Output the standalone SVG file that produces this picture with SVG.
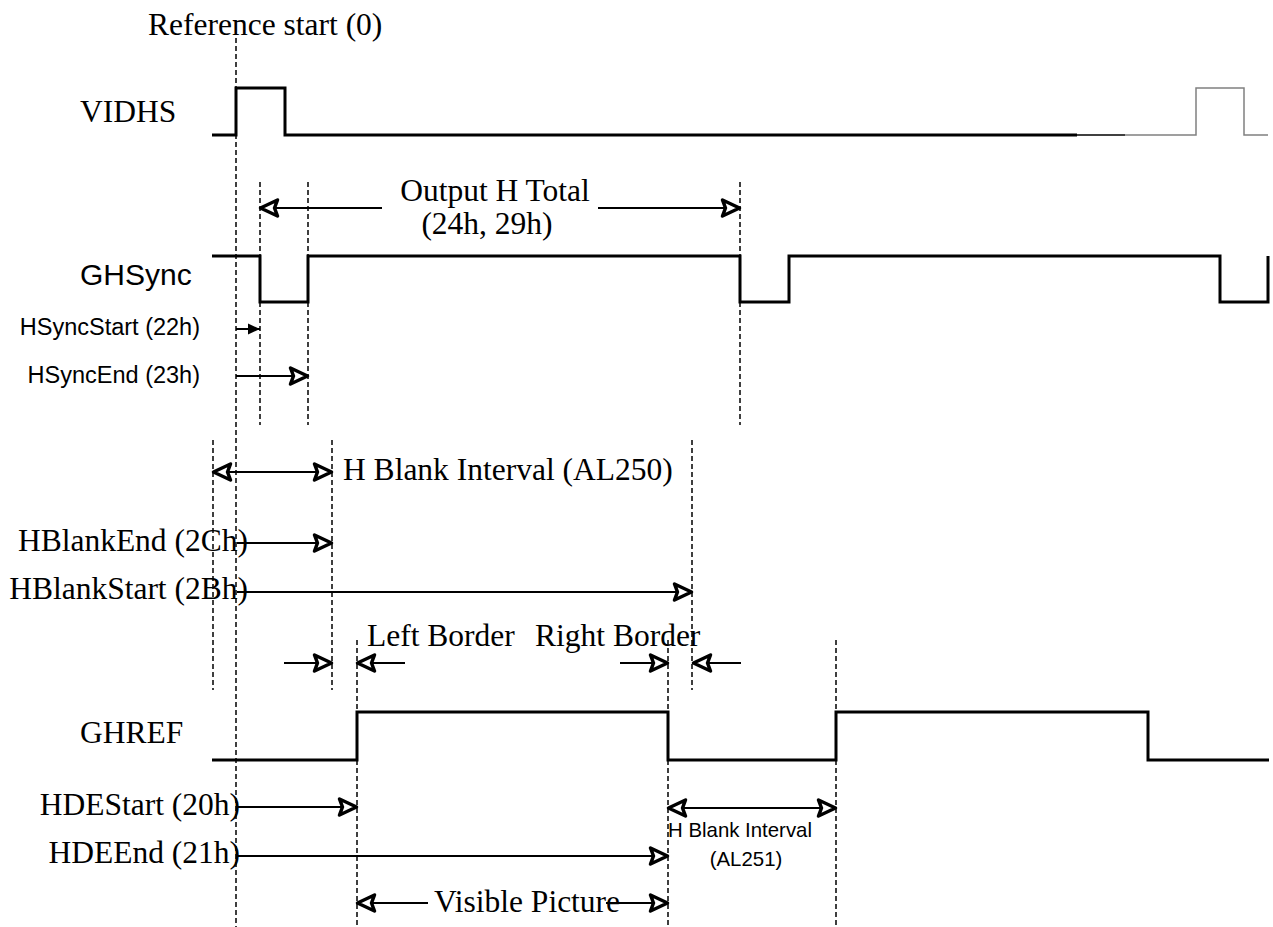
<svg xmlns="http://www.w3.org/2000/svg" width="1273" height="927" viewBox="0 0 1273 927">
<style>
.serif{font-family:"Liberation Serif","Times New Roman",serif;font-size:31.5px;fill:#000}
.sans{font-family:"Liberation Sans",Arial,sans-serif;fill:#000}
.sig{fill:none;stroke:#000;stroke-width:3;stroke-linejoin:miter}
.dash{fill:none;stroke:#000;stroke-width:1.5;stroke-dasharray:5,3}
.arr{fill:none;stroke:#000;stroke-width:2}
.oe{marker-end:url(#open)}
.os{marker-start:url(#open)}
</style>
<defs>
<marker id="open" markerUnits="userSpaceOnUse" markerWidth="26" markerHeight="26" viewBox="0 0 26 26" refX="22.5" refY="13" orient="auto-start-reverse">
<path d="M22,13 L5,5 L8,13 L5,21 Z" fill="#fff" stroke="#000" stroke-width="3.5" stroke-linejoin="round"/>
</marker>
<marker id="solid" markerUnits="userSpaceOnUse" markerWidth="16" markerHeight="16" viewBox="0 0 16 16" refX="14" refY="8" orient="auto">
<path d="M14,8 L2,2.5 L2,13.5 Z" fill="#000"/>
</marker>
</defs>
<rect width="1273" height="927" fill="#fff"/>

<g id="guides">
<line class="dash" x1="236" y1="38" x2="236" y2="927"/>
<line class="dash" x1="260" y1="182" x2="260" y2="425"/>
<line class="dash" x1="308" y1="182" x2="308" y2="425"/>
<line class="dash" x1="740" y1="182" x2="740" y2="425"/>
<line class="dash" x1="213" y1="440" x2="213" y2="690"/>
<line class="dash" x1="332" y1="440" x2="332" y2="690"/>
<line class="dash" x1="692" y1="440" x2="692" y2="690"/>
<line class="dash" x1="357" y1="640" x2="357" y2="927"/>
<line class="dash" x1="668" y1="640" x2="668" y2="927"/>
<line class="dash" x1="836" y1="640" x2="836" y2="927"/>
</g>

<g id="title">
<text class="serif" x="148" y="35">Reference start (0)</text>
</g>

<g id="vidhs">
<text class="serif" x="80" y="122">VIDHS</text>
<path class="sig" d="M212,135 H236 V88 H285 V135 H1077"/>
<path fill="none" stroke="#000" stroke-width="1.5" d="M1077,135 H1125"/>
<path fill="none" stroke="#808080" stroke-width="1.5" d="M1125,135 H1196 V88 H1244 V135 H1268"/>
</g>

<g id="ghsync">
<text class="sans" x="80" y="285" font-size="30">GHSync</text>
<path class="sig" d="M212,256 H260 V302 H308 V256 H740 V302 H789 V256 H1220 V302 H1268 V256"/>
</g>

<g id="ghref">
<text class="serif" x="80" y="743">GHREF</text>
<path class="sig" d="M212,760 H357 V712 H668 V760 H836 V712 H1148 V760 H1269"/>
</g>

<g id="labels">
<text class="serif" x="495" y="201" text-anchor="middle">Output H Total</text>
<text class="serif" x="487" y="234" text-anchor="middle">(24h, 29h)</text>
<text class="sans" x="200" y="335" font-size="23.5" text-anchor="end">HSyncStart (22h)</text>
<text class="sans" x="200" y="383" font-size="23.5" text-anchor="end">HSyncEnd (23h)</text>
<text class="serif" x="343" y="480">H Blank Interval (AL250)</text>
<text class="serif" x="248" y="551" text-anchor="end">HBlankEnd (2Ch)</text>
<text class="serif" x="248" y="599" text-anchor="end">HBlankStart (2Bh)</text>
<text class="serif" x="367" y="646">Left Border</text>
<text class="serif" x="535" y="646">Right Border</text>
<text class="serif" x="240" y="815" text-anchor="end">HDEStart (20h)</text>
<text class="serif" x="240" y="863" text-anchor="end">HDEEnd (21h)</text>
<text class="sans" x="740" y="837" font-size="20.4" text-anchor="middle">H Blank Interval</text>
<text class="sans" x="746" y="866" font-size="20.4" text-anchor="middle">(AL251)</text>
<text class="serif" x="527" y="912" text-anchor="middle">Visible Picture</text>
</g>

<g id="connectors">
<line class="arr os" x1="260" y1="208" x2="382" y2="208"/>
<line class="arr oe" x1="598" y1="208" x2="740" y2="208"/>
<line class="arr" x1="236" y1="329" x2="260" y2="329" marker-end="url(#solid)"/>
<line class="arr oe" x1="236" y1="376" x2="308" y2="376"/>
<line class="arr os oe" x1="213" y1="472" x2="332" y2="472"/>
<line class="arr oe" x1="237" y1="543" x2="332" y2="543"/>
<line class="arr oe" x1="237" y1="592" x2="692" y2="592"/>
<line class="arr oe" x1="284" y1="663" x2="332" y2="663"/>
<line class="arr oe" x1="405" y1="663" x2="357" y2="663"/>
<line class="arr oe" x1="620" y1="663" x2="668" y2="663"/>
<line class="arr oe" x1="741" y1="663" x2="693" y2="663"/>
<line class="arr oe" x1="238" y1="807" x2="357" y2="807"/>
<line class="arr oe" x1="238" y1="856" x2="668" y2="856"/>
<line class="arr os oe" x1="668" y1="808" x2="836" y2="808"/>
<line class="arr os" x1="357" y1="903" x2="428" y2="903"/>
<line class="arr oe" x1="606" y1="903" x2="668" y2="903"/>
</g>
</svg>
